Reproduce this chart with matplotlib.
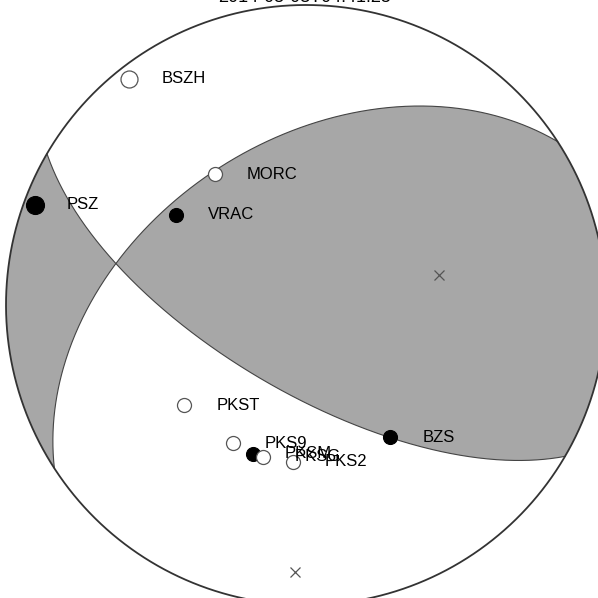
import numpy as np
import matplotlib
matplotlib.use("Agg")
import matplotlib.pyplot as plt
from matplotlib.patches import Circle

# ---- data ----
title_text = "2014-05-03T04:41:25"

# nodal planes (strike, dip) in degrees
plane_strikes = [120.3, 237.0]
plane_dips = [66.5, 45.0]

# P and T axes (trend, plunge)
axis_names = ["T", "P"]
axis_trends = [77.3, 182.4]
axis_plunges = [52.4, 11.9]

# stations: azimuth, takeoff angle (from down), polarity (1 = up/compression, 0 = down), marker size
stations = ["BSZH", "MORC", "PSZ", "VRAC", "PKST", "PKS9", "PKSM", "PKSG", "PKS2", "BZS"]
azimuths = [322.0, 325.1, 290.3, 304.7, 230.5, 207.8, 199.7, 195.9, 184.8, 147.5]
takeoffs = [85.1, 44.1, 85.8, 43.9, 43.6, 43.3, 43.7, 43.6, 43.5, 43.4]
polarities = [0, 0, 1, 1, 0, 0, 1, 0, 0, 1]
sizes_px = [17, 14, 18, 14, 14, 14, 14, 14, 14, 14]

plt.rcParams['font.family'] = ['Liberation Sans', 'DejaVu Sans']


def project(trend_deg, theta_deg):
    """Lambert equal-area (lower hemisphere). theta = angle from vertical."""
    th = np.radians(theta_deg)
    r = np.sqrt(2.0) * np.sin(th / 2.0)
    az = np.radians(trend_deg)
    return r * np.sin(az), r * np.cos(az)


def pole(strike, dip):
    tr = np.radians(strike - 90.0)
    pl = np.radians(90.0 - dip)
    return np.array([np.cos(pl) * np.cos(tr), np.cos(pl) * np.sin(tr), np.sin(pl)])


fig = plt.figure(figsize=(5.98, 5.98), dpi=100)
ax = fig.add_axes([0, 0, 1, 1])
cx, cy, R = 306.0, 305.0, 300.0
ax.set_xlim(-cx / R, (598 - cx) / R)
ax.set_ylim((cy - 598) / R, cy / R)
ax.set_aspect('equal')
ax.axis('off')

# polarity field for shading
n1 = pole(plane_strikes[0], plane_dips[0])
n2 = pole(plane_strikes[1], plane_dips[1])
tt, tp = np.radians(axis_trends[0]), np.radians(axis_plunges[0])
tvec = np.array([np.cos(tp) * np.cos(tt), np.cos(tp) * np.sin(tt), np.sin(tp)])
sgn = np.sign(np.dot(n1, tvec) * np.dot(n2, tvec))

g = np.linspace(-1.05, 1.05, 1401)
X, Y = np.meshgrid(g, g)
r = np.clip(np.hypot(X, Y), 0, np.sqrt(2) - 1e-9)
theta = 2 * np.arcsin(r / np.sqrt(2))
phi = np.arctan2(X, Y)
vN = np.sin(theta) * np.cos(phi)
vE = np.sin(theta) * np.sin(phi)
vD = np.cos(theta)
F = sgn * (n1[0] * vN + n1[1] * vE + n1[2] * vD) * (n2[0] * vN + n2[1] * vE + n2[2] * vD)

clip = Circle((0, 0), 1.0, transform=ax.transData, facecolor='none', edgecolor='none')
ax.add_patch(clip)
cs = ax.contourf(X, Y, F, levels=[0, 10], colors=['#a7a7a7'], antialiased=True, zorder=1)
cs.set_clip_path(clip)

# nodal plane lines
t = np.linspace(0, np.pi, 400)
for s, d in zip(plane_strikes, plane_dips):
    sr, dr = np.radians(s), np.radians(d)
    sv = np.array([np.cos(sr), np.sin(sr), 0.0])
    dv = np.array([np.cos(dr) * np.cos(sr + np.pi / 2), np.cos(dr) * np.sin(sr + np.pi / 2), np.sin(dr)])
    v = np.outer(np.cos(t), sv) + np.outer(np.sin(t), dv)
    th = np.degrees(np.arccos(np.clip(v[:, 2], -1, 1)))
    tr = np.degrees(np.arctan2(v[:, 1], v[:, 0]))
    px, py = project(tr, th)
    ax.plot(px, py, color='#444444', lw=0.8, zorder=2)

# primitive circle
a = np.linspace(0, 2 * np.pi, 720)
ax.plot(np.cos(a), np.sin(a), color='#333333', lw=1.3, zorder=3)

# P / T axes
for tr, pl in zip(axis_trends, axis_plunges):
    px, py = project(tr, 90 - pl)
    ax.plot(px, py, marker='x', ms=7, mew=0.9, color='#555555', zorder=4, ls='none')

# stations
for name, az, to, pol, sz in zip(stations, azimuths, takeoffs, polarities, sizes_px):
    px, py = project(az, to)
    ms = sz * 72.0 / 100.0
    if pol:
        ax.plot(px, py, 'o', ms=ms, mfc='black', mec='black', mew=0.8, zorder=5)
    else:
        ax.plot(px, py, 'o', ms=ms, mfc='white', mec='#555555', mew=0.9, zorder=5)
    ax.annotate(name, (px, py), xytext=(23.0, 0), textcoords='offset points',
                va='center', ha='left', fontsize=12, color='black', zorder=6)

fig.text(305 / 598, 1 - 2.5 / 598, title_text, ha='center', va='baseline', fontsize=13)

fig.savefig('out.png', dpi=100)
